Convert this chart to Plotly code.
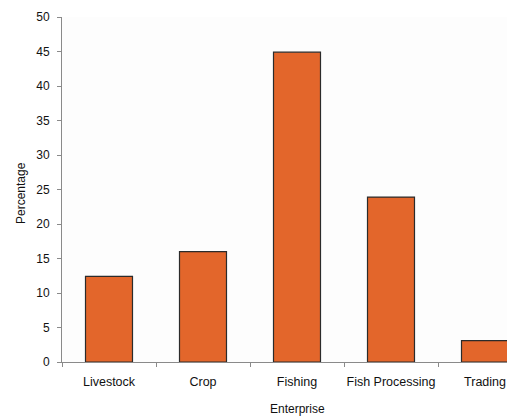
import plotly.graph_objects as go

categories = ["Livestock", "Crop", "Fishing", "Fish Processing", "Trading"]
percentages = [12.4, 16.0, 44.9, 23.9, 3.1]
y_ticks = [0, 5, 10, 15, 20, 25, 30, 35, 40, 45, 50]

FONT = "Liberation Sans, Arial, sans-serif"

fig = go.Figure()
fig.add_trace(go.Bar(
    x=categories,
    y=percentages,
    width=0.5,
    marker=dict(color="#E3662B", line=dict(color="#2b2b2b", width=1.2)),
))

fig.update_layout(
    width=507,
    height=417,
    margin=dict(l=62, r=0, t=17, b=55, autoexpand=False),
    paper_bgcolor="white",
    plot_bgcolor="#fdfdfd",
    showlegend=False,
    font=dict(family=FONT, size=12, color="#111111"),
    bargap=0.5,
)

fig.update_xaxes(
    type="category",
    range=[-0.5, 4.234],
    automargin=False,
    tickangle=0,
    showline=True,
    linecolor="#8a8a8a",
    linewidth=1,
    ticks="outside",
    tickson="boundaries",
    ticklen=4,
    tickcolor="#8a8a8a",
    ticklabelstandoff=8,
    showgrid=False,
    tickfont=dict(family=FONT, size=12.5, color="#111111"),
    zeroline=False,
)
fig.update_yaxes(
    range=[0, 50],
    tickvals=y_ticks,
    automargin=False,
    showline=True,
    linecolor="#8a8a8a",
    linewidth=1,
    ticks="outside",
    ticklen=4,
    tickcolor="#8a8a8a",
    ticklabelstandoff=5,
    showgrid=False,
    zeroline=False,
    tickfont=dict(family=FONT, size=12, color="#111111"),
)

fig.add_annotation(
    text="Enterprise", xref="paper", yref="paper",
    x=(297 - 62) / (507 - 62), y=-(409 - 362) / 345,
    xanchor="center", yanchor="middle", showarrow=False,
    font=dict(family=FONT, size=12, color="#111111"),
)
fig.add_annotation(
    text="Percentage", xref="paper", yref="paper",
    x=-(62 - 21) / (507 - 62), y=(362 - 193) / 345,
    xanchor="center", yanchor="middle", showarrow=False, textangle=-90,
    font=dict(family=FONT, size=12, color="#111111"),
)

fig.write_html("out.html")
